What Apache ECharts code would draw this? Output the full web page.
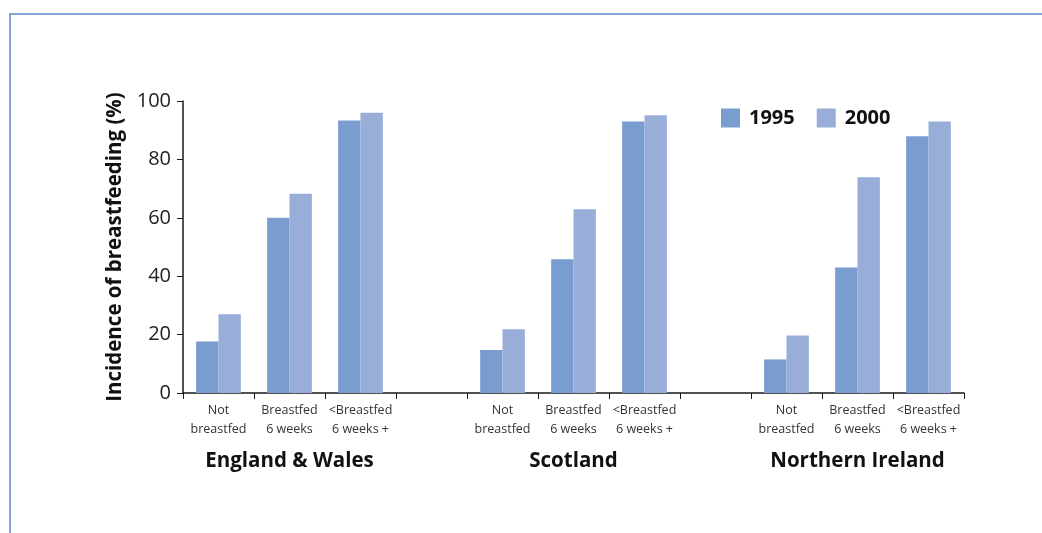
<!DOCTYPE html>
<html>
<head>
<meta charset="utf-8">
<script src="https://cdn.jsdelivr.net/npm/echarts@6/dist/echarts.min.js"></script>
<style>
  html, body { margin: 0; padding: 0; background: #fff; }
  #chart { width: 1042px; height: 533px; }
</style>
</head>
<body>
<div id="chart"></div>
<script>
const regions = ["England & Wales", "Scotland", "Northern Ireland"]
const measures = ["Not\nbreastfed", "Breastfed\n6 weeks", "<Breastfed\n6 weeks +"]
const years = ["1995", "2000"]
const values1995 = [17.6, 60, 93.3, 14.7, 45.8, 93, 11.5, 43, 87.9]
const values2000 = [27, 68.2, 96, 21.8, 62.9, 95.1, 19.7, 73.9, 93]
const yTicks = { min: 0, max: 100, interval: 20 }

// one empty slot between regions
function withGaps(arr, gap) {
  const out = []
  regions.forEach((r, i) => {
    if (i > 0) out.push(gap)
    for (let j = 0; j < measures.length; j++) out.push(arr[i * measures.length + j])
  })
  return out
}

const categories = withGaps(regions.flatMap(() => measures), "")
const regionLabels = withGaps(regions.flatMap((r) => ["", r, ""]), "")

const font = "'Open Sans', 'Noto Sans', sans-serif"
const colors = ["#7a9dd0", "#98aed9"]

const chart = echarts.init(document.getElementById("chart"))
chart.setOption({
  animation: false,
  textStyle: { fontFamily: font },
  grid: { left: 183, right: 78, top: 101, bottom: 140 },
  graphic: [
    {
      type: "polyline",
      shape: { points: [[10, 533], [10, 14], [1042, 14]] },
      style: { stroke: "#8ba5d8", lineWidth: 2, fill: null },
    },
  ],
  legend: {
    data: years,
    left: 721,
    top: 108,
    padding: 0,
    itemWidth: 19,
    itemHeight: 19,
    itemGap: 22,
    icon: "rect",
    textStyle: { fontFamily: font, fontSize: 20, fontWeight: "bold", color: "#111", padding: [0, 0, 0, 4] },
  },
  xAxis: [
    {
      type: "category",
      data: categories,
      axisLine: { lineStyle: { color: "#1a1a1a", width: 1.5 } },
      axisTick: { show: true, interval: 0, length: 6, lineStyle: { color: "#1a1a1a" } },
      axisLabel: { interval: 0, fontSize: 12.5, lineHeight: 19, color: "#333", margin: 8 },
    },
    {
      type: "category",
      position: "bottom",
      data: regionLabels,
      axisLine: { show: false },
      axisTick: { show: false },
      axisLabel: { interval: 0, fontSize: 20.5, fontWeight: "bold", color: "#111", margin: 58 },
    },
  ],
  yAxis: {
    type: "value",
    min: yTicks.min,
    max: yTicks.max,
    interval: yTicks.interval,
    name: "Incidence of breastfeeding (%)",
    nameLocation: "middle",
    nameGap: 53,
    nameTextStyle: { fontFamily: font, fontSize: 20.5, fontWeight: "bold", color: "#111" },
    axisLine: { show: true, lineStyle: { color: "#1a1a1a", width: 1.5 } },
    axisTick: { show: true, length: 6, lineStyle: { color: "#1a1a1a" } },
    axisLabel: { fontSize: 20, color: "#222", margin: 12 },
    splitLine: { show: false },
  },
  series: [
    {
      name: years[0],
      type: "bar",
      data: withGaps(values1995, "-"),
      barGap: "0%",
      barCategoryGap: "37%",
      itemStyle: { color: colors[0] },
    },
    {
      name: years[1],
      type: "bar",
      data: withGaps(values2000, "-"),
      barGap: "0%",
      barCategoryGap: "37%",
      itemStyle: { color: colors[1] },
    },
  ],
})
</script>
</body>
</html>
